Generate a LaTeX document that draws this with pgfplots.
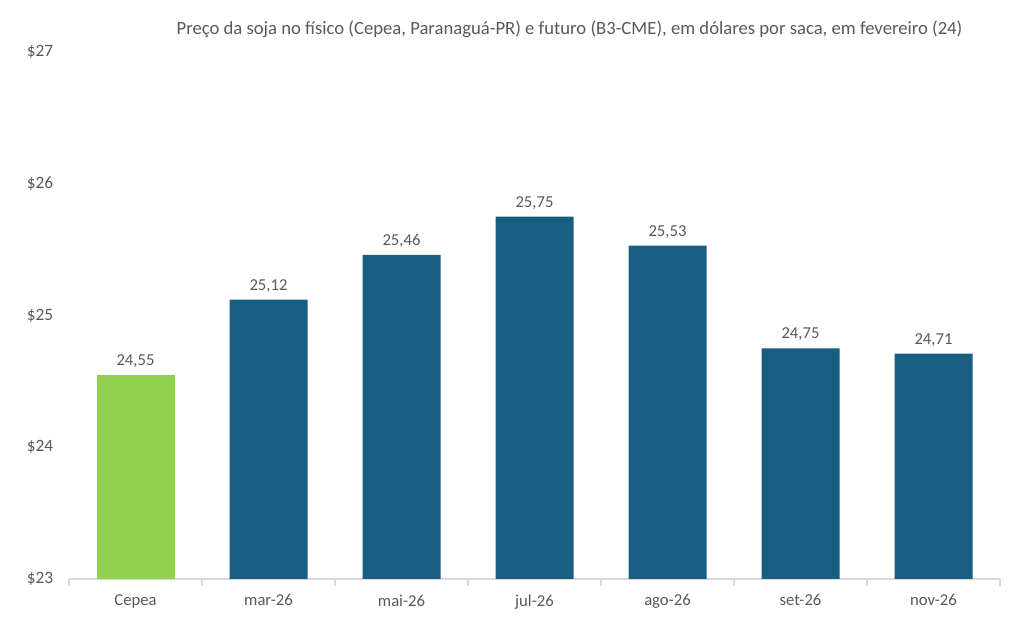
\documentclass[border=0pt]{standalone}
\usepackage{pgfplots}
\pgfplotsset{compat=1.18}
\usepackage{fontspec}
\setmainfont{Carlito}
\definecolor{txt}{RGB}{89,89,89}
\definecolor{bluebar}{RGB}{23,94,128}
\definecolor{greenbar}{RGB}{146,208,80}
\definecolor{axgray}{RGB}{217,217,217}
\begin{document}
\begin{tikzpicture}[x=0.75pt,y=0.75pt]
\begin{axis}[
  at={(51.75pt,37.5pt)}, anchor=south west,
  scale only axis,
  width=698.25pt, height=395.25pt,
  xmin=-0.5, xmax=6.5, ymin=23, ymax=27,
  ytick={23,24,25,26,27},
  yticklabel={\$\pgfmathprintnumber{\tick}},
  /pgf/number format/assume math mode=true,
  xtick={0,1,2,3,4,5,6},
  xticklabels={Cepea,mar-26,mai-26,jul-26,ago-26,set-26,nov-26},
  minor xtick={-0.5,0.5,1.5,2.5,3.5,4.5,5.5,6.5},
  axis x line*=bottom, axis y line*=left,
  y axis line style={draw=none},
  x axis line style={draw=axgray, line width=0.8pt},
  major x tick style={draw=none},
  minor x tick style={draw=axgray, line width=0.8pt},
  minor tick length=5pt,
  tick align=outside,
  major y tick style={draw=none},
  tick label style={font=\fontsize{12.5}{14}\selectfont, text=txt},
  yticklabel style={xshift=-4pt, font=\fontsize{13}{15}\selectfont},
  xticklabel style={yshift=-4pt},
  ybar, bar width=58.5pt, bar shift=0pt,
  nodes near coords={\pgfmathprintnumber[use comma, fixed, fixed zerofill, precision=2, assume math mode=true]{\pgfplotspointmeta}},
  nodes near coords style={font=\fontsize{12.5}{14}\selectfont, text=txt, yshift=2pt},
  clip=false,
]
\addplot[fill=greenbar, draw=none] coordinates {(0,24.55)};
\addplot[fill=bluebar, draw=none] coordinates {(1,25.12) (2,25.46) (3,25.75) (4,25.53) (5,24.75) (6,24.71)};
\end{axis}
\node[font=\fontsize{14}{16}\selectfont, text=txt] at (569.5,600) {Preço da soja no físico (Cepea, Paranaguá-PR) e futuro (B3-CME), em dólares por saca, em fevereiro (24)};
\pgfresetboundingbox
\path[use as bounding box] (0,0) rectangle (1011,629);
\end{tikzpicture}
\end{document}
